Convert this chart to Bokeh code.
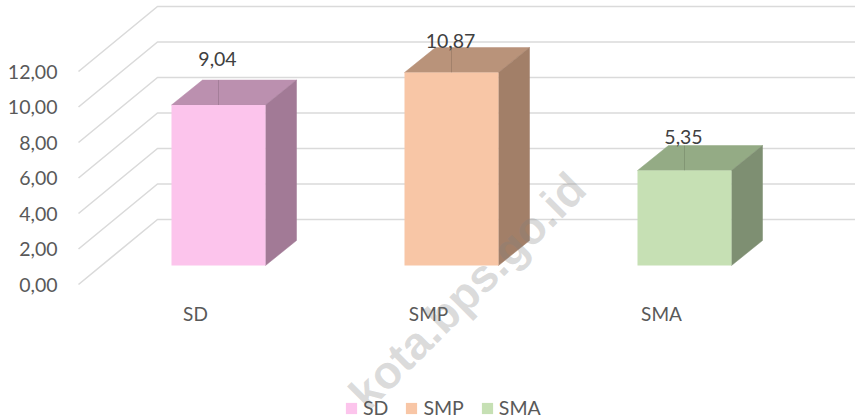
from bokeh.embed import file_html
from bokeh.resources import INLINE
from bokeh.plotting import figure
from bokeh.models import FixedTicker, Legend, LegendItem
from bokeh.core.properties import value

# ---- data ----
categories = ["SD", "SMP", "SMA"]
values = [9.04, 10.87, 5.35]
value_labels = ["9,04", "10,87", "5,35"]
ticks = [0, 2, 4, 6, 8, 10, 12]
tick_labels = ["0,00", "2,00", "4,00", "6,00", "8,00", "10,00", "12,00"]
front_colors = ["#FCC4EC", "#F8C6A6", "#C6E0B4"]
top_colors = ["#BB90AF", "#B9937A", "#94AB85"]
side_colors = ["#A27A96", "#A27F68", "#7E8F72"]
label_gap_px = [21, 7, 9]

W, H = 855, 419
PX_X = 233.0          # px per category
PX_Y = 17.75          # px per value unit
X0_PX, Y0_PX = 218.0, 284.0   # plot px of category 0 centre and of value 0 on the front edge
LEFT = 62

def ux(px):
    return px / PX_X

def uy(px):
    return px / PX_Y

p = figure(width=W, height=H, output_backend="svg", toolbar_location=None,
           x_range=(ux(LEFT - X0_PX), ux(W - X0_PX)),
           y_range=(uy(Y0_PX - H), uy(Y0_PX)),
           min_border_left=LEFT, min_border_right=0, min_border_top=0, min_border_bottom=0,
           x_axis_location=None, background_fill_color="white")
p.outline_line_color = None
p.grid.visible = False

ax = p.yaxis[0]
ax.ticker = FixedTicker(ticks=ticks)
ax.major_label_overrides = {t: s for t, s in zip(ticks, tick_labels)}
ax.axis_line_color = None
ax.major_tick_line_color = None
ax.minor_tick_line_color = None
ax.major_tick_out = 0
ax.major_tick_in = 0
ax.minor_tick_out = 0
ax.major_label_standoff = 5
ax.major_label_text_font = "Lato"
ax.major_label_text_font_size = "19.5px"
ax.major_label_text_color = "#595959"

# 3D walls: slanted floor-to-wall line plus the horizontal back line
wall_dx, wall_dy = ux(79), uy(65)
wall_x = ux(78 - X0_PX)
right = ux(W - X0_PX)
p.multi_line(xs=[[wall_x, wall_x + wall_dx, right] for _ in ticks],
             ys=[[t, t + wall_dy, t + wall_dy] for t in ticks],
             line_color="#DADADA", line_width=1.6)

# 3D bars
bw = ux(94)
dx, dy = ux(31), uy(25)
base = uy(19)
xs_i = list(range(len(categories)))
tops = [base + v for v in values]
for i, t, c1, c2 in zip(xs_i, tops, top_colors, side_colors):
    l, r = i - bw / 2, i + bw / 2
    p.patch([l, r, r + dx, l + dx], [t, t, t + dy, t + dy], fill_color=c1, line_color=c1, line_width=0.5)
    p.patch([r, r + dx, r + dx, r], [base, base + dy, t + dy, t], fill_color=c2, line_color=c2, line_width=0.5)

front = [p.vbar(x=[i], width=bw, bottom=[base], top=[t], fill_color=c, line_color=None)
         for i, t, c in zip(xs_i, tops, front_colors)]

# leader lines
p.segment(x0=xs_i, x1=xs_i, y0=tops, y1=[t + dy for t in tops], line_color="#000000", line_alpha=0.12, line_width=1)

# value labels
p.text(x=[i - ux(1) for i in xs_i], y=[t + dy + uy(g) for t, g in zip(tops, label_gap_px)],
       text=value_labels, text_font=value("Lato"), text_font_size="19.5px", text_color="#404040",
       text_align="center", text_baseline="middle")

# category labels
p.text(x=[i - ux(23) for i in xs_i], y=[uy(Y0_PX - 313)] * 3, text=categories,
       text_font=value("Lato"), text_font_size="19px", text_color="#595959",
       text_align="center", text_baseline="middle")

# watermark
p.text(x=[ux(577 - X0_PX)], y=[uy(Y0_PX - 180)], text=["kota.bps.go.id"], angle=45, angle_units="deg",
       text_font=value("Liberation Sans"), text_font_style="bold", text_font_size="46px",
       text_color="#808080", text_alpha=0.28, text_align="right", text_baseline="middle")

legend = Legend(items=[LegendItem(label=c, renderers=[r]) for c, r in zip(categories, front)],
                orientation="horizontal", location=(282, 0), background_fill_alpha=0,
                border_line_alpha=0, padding=0, margin=0, spacing=16, glyph_width=14, glyph_height=14,
                label_standoff=5, label_text_font="Lato", label_text_font_size="19.5px",
                label_text_color="#595959")
p.add_layout(legend, "center")

open("out.html", "w").write(file_html(p, INLINE))
